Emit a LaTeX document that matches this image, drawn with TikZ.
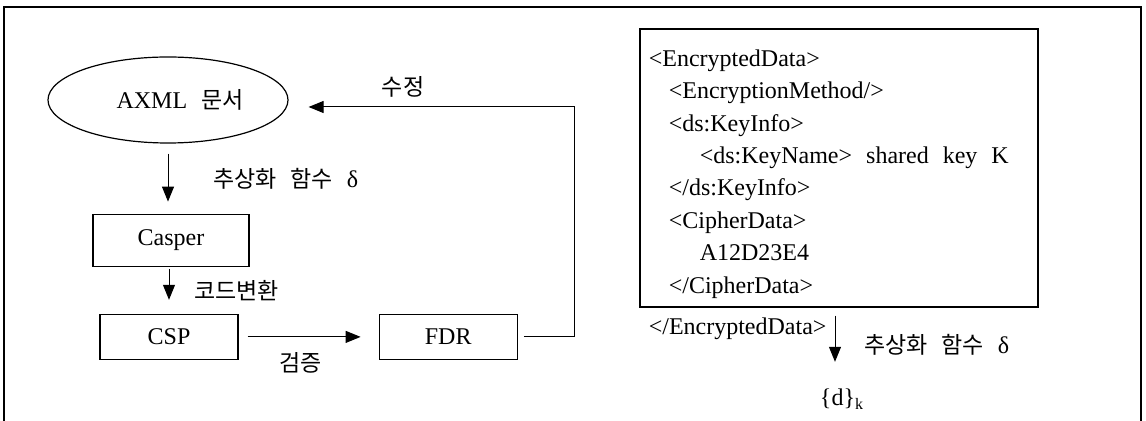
\documentclass[tikz,border=0pt]{standalone}
\usepackage{fontspec}
\setmainfont{Liberation Serif}
\newfontfamily\krfont{Noto Sans CJK KR}
\usetikzlibrary{shapes.geometric, arrows.meta}
\usetikzlibrary{positioning}
\newcommand{\krtext}[1]{{\krfont\fontsize{11.5}{13}\selectfont #1}}
\newcommand{\widespaces}{\spaceskip=7pt\relax}
\tikzstyle{document} = [ellipse, draw=black, line width=0.6pt, minimum width=120pt, minimum height=43pt, inner sep=0pt]
\tikzstyle{process} = [rectangle, draw=black, line width=0.6pt, text centered]
\tikzstyle{xmlline} = [anchor=base west, inner sep=0pt]
\tikzstyle{arrow} = [line width=0.5pt, -{Triangle[length=7.5pt, width=6pt]}]

\begin{document}
\begin{tikzpicture}[font=\fontsize{12}{14}\selectfont\widespaces]
    \useasboundingbox (0,0) rectangle (573pt,-210.5pt);
    \draw [line width=0.6pt] (2pt,-210.5pt) |- (570.5pt,-3.5pt) -- (570.5pt,-210.5pt);

    \node (axml) [document] at (84pt,-50pt) {\hspace*{12pt}AXML \krtext{문서}};
    \node (casper) [process, minimum width=78pt, minimum height=26pt, below=35pt of axml, xshift=1.5pt] {Casper};
    \node (csp) [process, minimum width=69pt, minimum height=22.5pt, below=23.5pt of casper, xshift=-1pt] {CSP};
    \node (fdr) [process, minimum width=69pt, minimum height=22.5pt, right=70pt of csp] {FDR};

    \node (xmlbox) [rectangle, draw=black, line width=0.6pt, minimum width=199pt, minimum height=139pt] at (419.5pt,-84pt) {};
    \node (encdata) [xmlline] at ([shift={(4.5pt,-19pt)}]xmlbox.north west) {<EncryptedData>};
    \node (encmethod) [xmlline] at ([shift={(14.5pt,-35.2pt)}]xmlbox.north west) {<EncryptionMethod/>};
    \node (keyinfo) [xmlline] at ([shift={(14.5pt,-51.4pt)}]xmlbox.north west) {<ds:KeyInfo>};
    \node (keyname) [xmlline] at ([shift={(30pt,-67.6pt)}]xmlbox.north west) {<ds:KeyName> shared key K};
    \node (keyinfoend) [xmlline] at ([shift={(14.5pt,-83.8pt)}]xmlbox.north west) {</ds:KeyInfo>};
    \node (cipher) [xmlline] at ([shift={(14.5pt,-100pt)}]xmlbox.north west) {<CipherData>};
    \node (ciphervalue) [xmlline] at ([shift={(30pt,-116.2pt)}]xmlbox.north west) {A12D23E4};
    \node (cipherend) [xmlline] at ([shift={(14.5pt,-132.4pt)}]xmlbox.north west) {</CipherData>};
    \node (encdataend) [xmlline] at ([shift={(4.5pt,-153pt)}]xmlbox.north west) {</EncryptedData>};
    \node (dk) at (421pt,-199.5pt) {\{d\}\textsubscript{k}};

    \draw [arrow, shorten <=5pt, shorten >=6pt] (axml.south) -- node[right=19pt]{\krtext{추상화 함수} δ} (axml.south |- casper.north);
    \draw [arrow, shorten <=1pt, shorten >=7pt] (csp.north |- casper.south) -- node[right=9pt]{\krtext{코드변환}} (csp.north);
    \draw [arrow, shorten <=4.5pt, shorten >=9pt] (csp.east) -- node[below=4pt, xshift=-4pt]{\krtext{검증}} (fdr.west);
    \draw [arrow, shorten <=3pt, shorten >=10pt] (fdr.east) -- ++(28.5pt,0) |- node[pos=0.8, above=1.5pt]{\krtext{수정}} ([yshift=-3.5pt]axml.east);
    \draw [arrow, shorten <=4pt, shorten >=10pt] ([xshift=-2pt]xmlbox.south) -- node[right=11pt]{\krtext{추상화 함수} δ} ([xshift=-2pt]xmlbox.south |- dk.north);

\end{tikzpicture}
\end{document}
